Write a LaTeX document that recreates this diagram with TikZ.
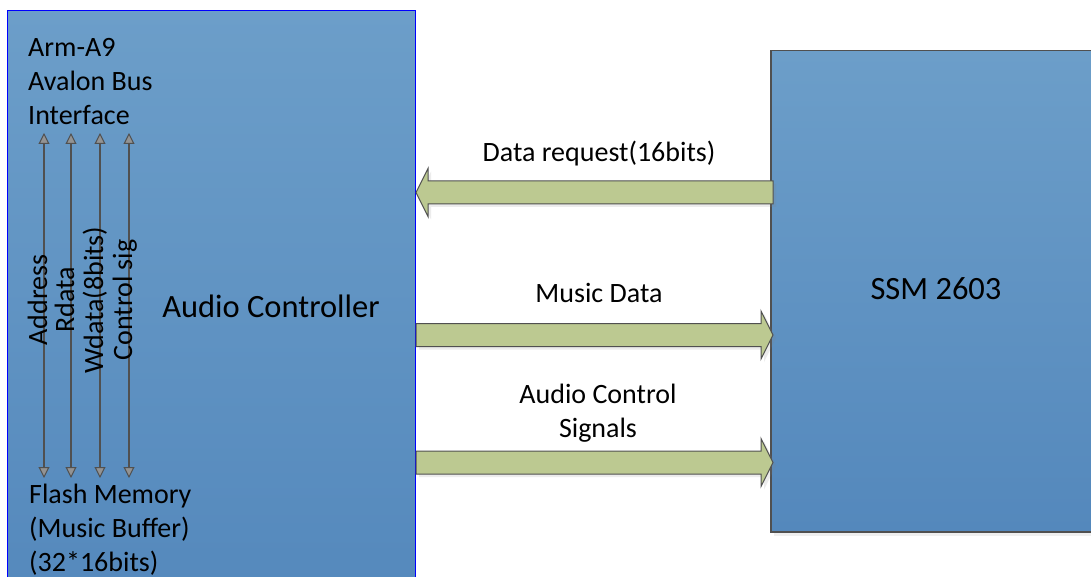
\documentclass[tikz,border=0pt]{standalone}
\usepackage{fontspec}
\setmainfont{Carlito}
\usetikzlibrary{calc,arrows.meta,shadows}

\definecolor{boxtop}{RGB}{108,158,201}
\definecolor{boxbot}{RGB}{84,136,188}
\definecolor{armfill}{RGB}{188,201,145}
\definecolor{edgegray}{RGB}{80,80,80}

\tikzset{
    blk/.style={inner sep=0pt, top color=boxtop, bottom color=boxbot},
    txt/.style={inner sep=0pt, font=\fontsize{28}{34}\selectfont},
    bigtxt/.style={inner sep=0pt, font=\fontsize{32.5}{38}\selectfont},
    bigarrow/.style={draw=edgegray, line width=1pt, fill=armfill,
        drop shadow={opacity=0.15, shadow xshift=3pt, shadow yshift=-3pt}},
    bustip/.tip={Triangle[width=11pt,length=11pt,fill=gray!85,line width=1pt]},
    busline/.style={draw=edgegray, line width=2pt, bustip-bustip},
}

% flat arrow from tail #1 to tip #2, #3 = 1 (right) or -1 (left)
\newcommand{\fatarrow}[3]{%
    \draw[bigarrow] ($(#1)+(0,-11.5)$) -- ($(#2)+(-12*#3,-11.5)$)
        -- ($(#2)+(-12*#3,-24)$) -- (#2) -- ($(#2)+(-12*#3,24)$)
        -- ($(#2)+(-12*#3,11.5)$) -- ($(#1)+(0,11.5)$) -- cycle;}

\begin{document}
\begin{tikzpicture}[x=1pt, y=-1pt]

    \clip (0,0) rectangle (1091,577);
    \fill[white] (0,0) rectangle (1091,577);

    % the two blocks
    \node[blk, draw=blue, line width=1pt, minimum width=408pt, minimum height=600pt,
        anchor=north west] (ctrl) at (7,10) {};
    \node[blk, draw=edgegray, line width=1.5pt, minimum width=340pt, minimum height=481pt,
        anchor=north west, drop shadow={opacity=0.12, shadow xshift=3pt, shadow yshift=-4pt}]
        (ssm) at (770,50) {};

    \node[bigtxt, anchor=base] (ctrl-name) at (271,317) {Audio Controller};
    \node[bigtxt, anchor=base] (ssm-name) at (936,299) {SSM 2603};

    \node[txt, anchor=north west, align=left] (bus) at (28,38) {Arm-A9\\Avalon Bus\\Interface};
    \node[txt, anchor=north west, align=left] (mem) at (29,484) {Flash Memory\\(Music Buffer)\\(32*16bits)};

    % bus signals between the avalon interface and the buffer
    \foreach \x/\name in {44/Address, 71/Rdata, 100/Wdata(8bits), 129/Control sig} {
        \coordinate (top-\x) at (\x,133);
        \coordinate (bot-\x) at (\x,478);
        \draw[busline] (top-\x) -- (bot-\x);
        \node[txt, rotate=90, anchor=base] at (\x+3,300) {\name};
    }

    % links to the codec
    \coordinate (req-tail) at (773,192.5);
    \coordinate (req-tip)  at (416,192.5);
    \coordinate (mus-tail) at (416,335);
    \coordinate (mus-tip)  at (773,335);
    \coordinate (ctl-tail) at (416,462.5);
    \coordinate (ctl-tip)  at (773,462.5);

    \fatarrow{req-tail}{req-tip}{-1}
    \fatarrow{mus-tail}{mus-tip}{1}
    \fatarrow{ctl-tail}{ctl-tip}{1}

    \node[txt, anchor=base] (req) at (599,162) {Data request(16bits)};
    \node[txt, anchor=base] (mus) at (599,302) {Music Data};
    \node[txt, anchor=base, align=center] (ctl) at (598,437) {Audio Control\\Signals};

\end{tikzpicture}
\end{document}
